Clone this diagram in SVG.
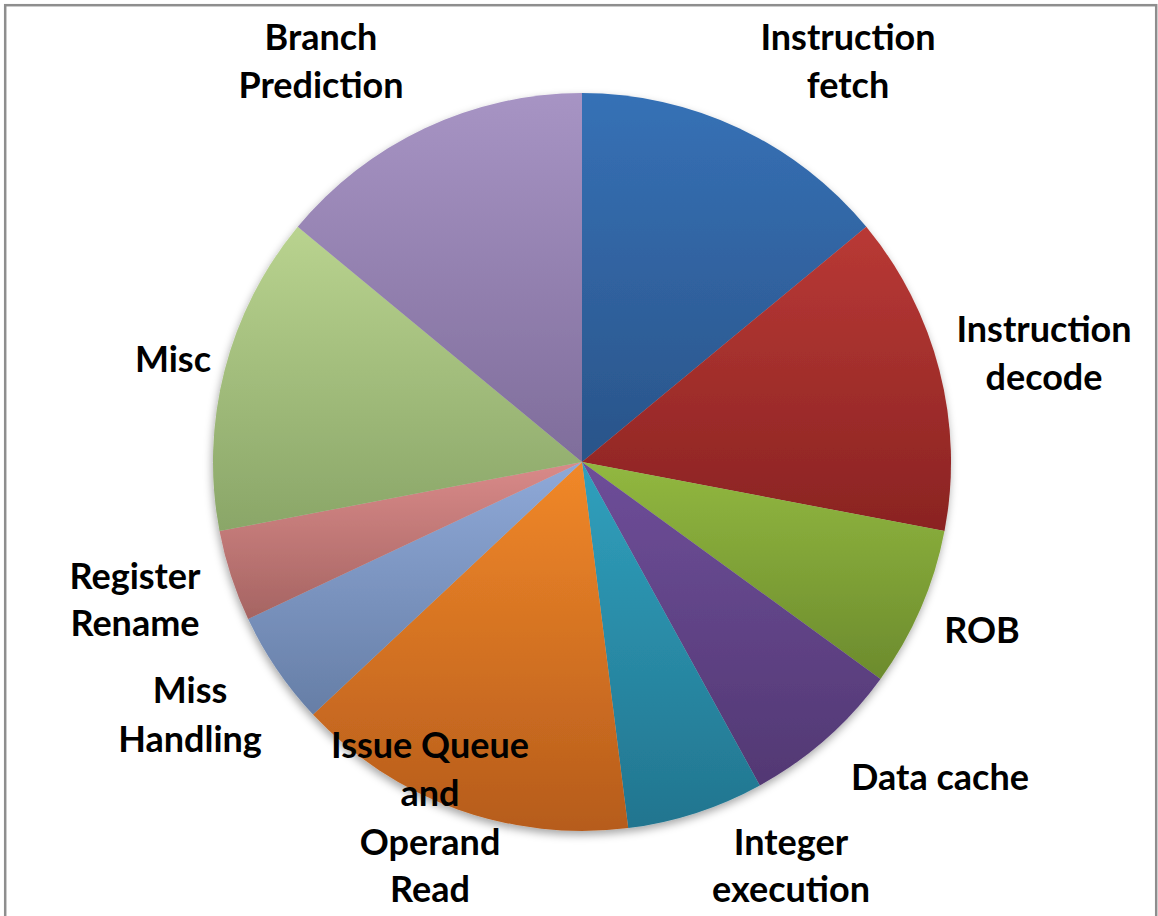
<svg xmlns="http://www.w3.org/2000/svg" width="1158" height="916" viewBox="0 0 1158 916">
  <style>
    .lbl { font-family: Lato, "Open Sans", "Liberation Sans", sans-serif; font-weight: bold; font-size: 36px; fill: #000; text-anchor: middle; }
    .slice { stroke: none; }
  </style>
  <defs>
    <linearGradient id="gFetch" x1="0" y1="0" x2="0" y2="1"><stop offset="0" stop-color="#3671b6"/><stop offset="1" stop-color="#2a5489"/></linearGradient>
    <linearGradient id="gDecode" x1="0" y1="0" x2="0" y2="1"><stop offset="0" stop-color="#b93935"/><stop offset="1" stop-color="#8a2322"/></linearGradient>
    <linearGradient id="gRob" x1="0" y1="0" x2="0" y2="1"><stop offset="0" stop-color="#92b840"/><stop offset="1" stop-color="#6c8b2d"/></linearGradient>
    <linearGradient id="gData" x1="0" y1="0" x2="0" y2="1"><stop offset="0" stop-color="#6e4e99"/><stop offset="1" stop-color="#523873"/></linearGradient>
    <linearGradient id="gInt" x1="0" y1="0" x2="0" y2="1"><stop offset="0" stop-color="#30a0bd"/><stop offset="1" stop-color="#22758f"/></linearGradient>
    <linearGradient id="gIssue" x1="0" y1="0" x2="0" y2="1"><stop offset="0" stop-color="#f18829"/><stop offset="1" stop-color="#b65c1c"/></linearGradient>
    <linearGradient id="gMiss" x1="0" y1="0" x2="0" y2="1"><stop offset="0" stop-color="#8fa9d8"/><stop offset="1" stop-color="#667ea6"/></linearGradient>
    <linearGradient id="gReg" x1="0" y1="0" x2="0" y2="1"><stop offset="0" stop-color="#d98a89"/><stop offset="1" stop-color="#a56462"/></linearGradient>
    <linearGradient id="gMisc" x1="0" y1="0" x2="0" y2="1"><stop offset="0" stop-color="#b9d38f"/><stop offset="1" stop-color="#8aa668"/></linearGradient>
    <linearGradient id="gBranch" x1="0" y1="0" x2="0" y2="1"><stop offset="0" stop-color="#a794c4"/><stop offset="1" stop-color="#7f6d9b"/></linearGradient>
    <filter id="pieShadow" x="-10%" y="-10%" width="120%" height="125%">
      <feDropShadow dx="-1" dy="4" stdDeviation="4" flood-color="#000" flood-opacity="0.35"/>
    </filter>
  </defs>

  <!-- chart frame -->
  <rect x="5.2" y="5.2" width="1151" height="960" fill="#fff" stroke="#8e8e8e" stroke-width="2.5"/>

  <!-- pie: centre (582,462), radius 369, slices clockwise from 12 o'clock -->
  <g id="pie" filter="url(#pieShadow)">
    <g id="slice-fetch"><path class="slice" fill="url(#gFetch)" d="M582,462 L582,93 A369,369 0 0 1 866.3,226.8 Z"/></g>
    <g id="slice-decode"><path class="slice" fill="url(#gDecode)" d="M582,462 L866.3,226.8 A369,369 0 0 1 944.5,531.1 Z"/></g>
    <g id="slice-rob"><path class="slice" fill="url(#gRob)" d="M582,462 L944.5,531.1 A369,369 0 0 1 880.5,678.9 Z"/></g>
    <g id="slice-dcache"><path class="slice" fill="url(#gData)" d="M582,462 L880.5,678.9 A369,369 0 0 1 759.8,785.4 Z"/></g>
    <g id="slice-intexec"><path class="slice" fill="url(#gInt)" d="M582,462 L759.8,785.4 A369,369 0 0 1 628.2,828.1 Z"/></g>
    <g id="slice-issue"><path class="slice" fill="url(#gIssue)" d="M582,462 L628.2,828.1 A369,369 0 0 1 313.0,714.6 Z"/></g>
    <g id="slice-miss"><path class="slice" fill="url(#gMiss)" d="M582,462 L313.0,714.6 A369,369 0 0 1 248.1,619.1 Z"/></g>
    <g id="slice-rename"><path class="slice" fill="url(#gReg)" d="M582,462 L248.1,619.1 A369,369 0 0 1 219.5,531.1 Z"/></g>
    <g id="slice-misc"><path class="slice" fill="url(#gMisc)" d="M582,462 L219.5,531.1 A369,369 0 0 1 297.7,226.8 Z"/></g>
    <g id="slice-branch"><path class="slice" fill="url(#gBranch)" d="M582,462 L297.7,226.8 A369,369 0 0 1 582,93 Z"/></g>
  </g>

  <!-- category labels -->
  <g id="label-branch"><text class="lbl" x="321" y="50">Branch</text><text class="lbl" x="321" y="98">Prediction</text></g>
  <g id="label-fetch"><text class="lbl" x="848" y="50">Instruction</text><text class="lbl" x="848" y="98">fetch</text></g>
  <g id="label-decode"><text class="lbl" x="1044" y="342">Instruction</text><text class="lbl" x="1044" y="390">decode</text></g>
  <g id="label-rob"><text class="lbl" x="982" y="643">ROB</text></g>
  <g id="label-dcache"><text class="lbl" x="940" y="790">Data cache</text></g>
  <g id="label-intexec"><text class="lbl" x="791" y="855">Integer</text><text class="lbl" x="791" y="902">execution</text></g>
  <g id="label-issue"><text class="lbl" x="430" y="758">Issue Queue</text><text class="lbl" x="430" y="806">and</text><text class="lbl" x="430" y="855">Operand</text><text class="lbl" x="430" y="902">Read</text></g>
  <g id="label-miss"><text class="lbl" x="190" y="703">Miss</text><text class="lbl" x="190" y="752">Handling</text></g>
  <g id="label-rename"><text class="lbl" x="135" y="589">Register</text><text class="lbl" x="135" y="636">Rename</text></g>
  <g id="label-misc"><text class="lbl" x="173" y="372">Misc</text></g>
</svg>
